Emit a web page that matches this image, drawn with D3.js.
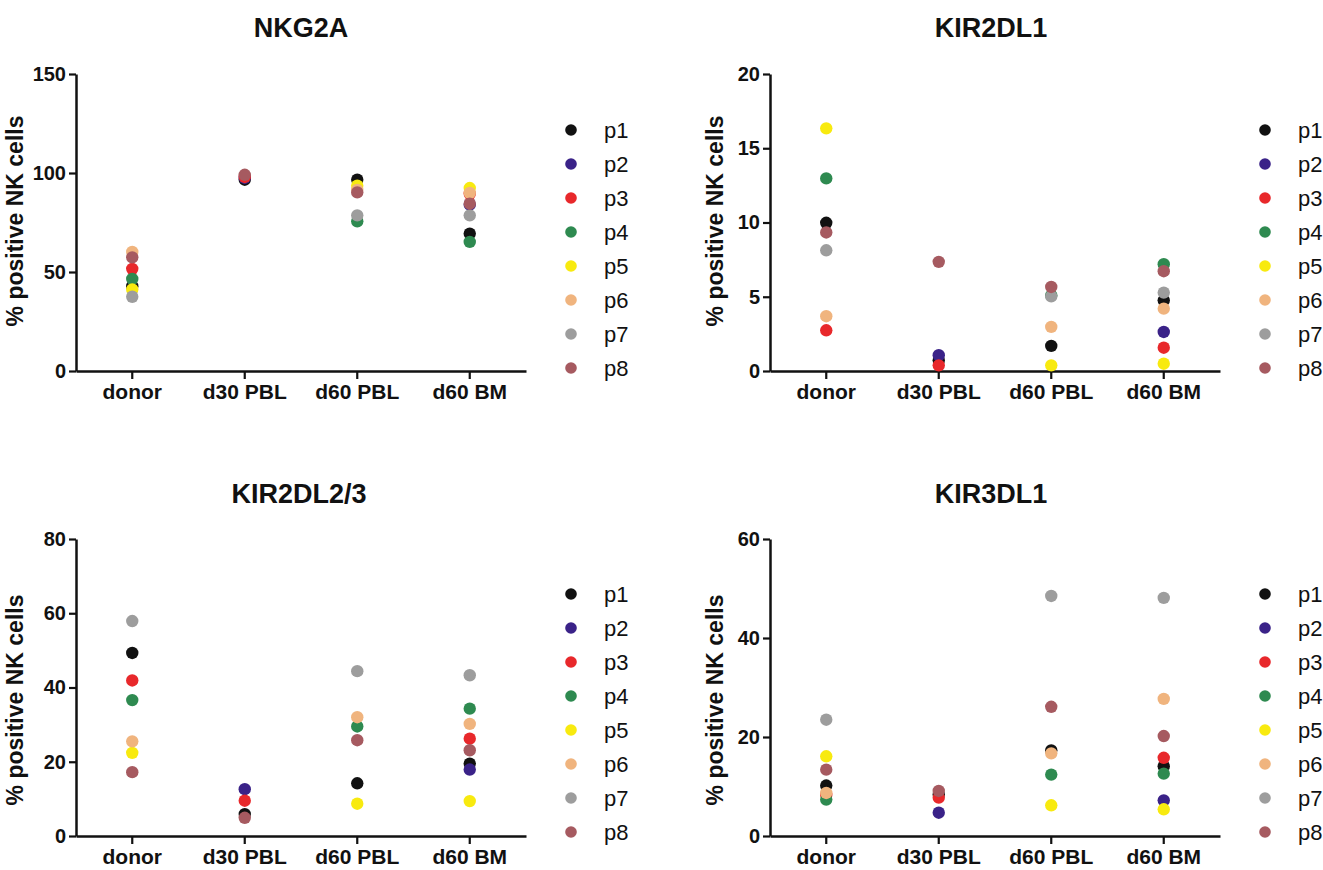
<!DOCTYPE html>
<html>
<head>
<meta charset="utf-8">
<script src="https://cdn.jsdelivr.net/npm/d3@7"></script>
<style>
  html, body { margin: 0; padding: 0; background: #fff; }
  svg { display: block; }
  text { font-family: "Liberation Sans", Arial, Helvetica, sans-serif; fill: #111; }
</style>
</head>
<body>
<svg id="chart" width="1323" height="870"></svg>
<script>
// ---- data ----
const categories = ["donor", "d30 PBL", "d60 PBL", "d60 BM"];
const patients = ["p1", "p2", "p3", "p4", "p5", "p6", "p7", "p8"];
const patientColors = ["#111111", "#3a2288", "#e8282b", "#2e8a50", "#f8ea0f", "#f0b47e", "#9d9d9d", "#a65a60"];

const panelTitles = ["NKG2A", "KIR2DL1", "KIR2DL2/3", "KIR3DL1"];
const yMax = [150, 20, 80, 60];
const ticksNKG2A = [0, 50, 100, 150];
const ticksKIR2DL1 = [0, 5, 10, 15, 20];
const ticksKIR2DL23 = [0, 20, 40, 60, 80];
const ticksKIR3DL1 = [0, 20, 40, 60];

// rows: p1..p8, columns: donor, d30 PBL, d60 PBL, d60 BM (null = not measured)
const valuesNKG2A = [
  [42.8, 96.6, 96.6, 69.4],
  [null, 97.5, null, 84.0],
  [51.6, 98.0, null, 89.5],
  [46.5, null, 75.6, 65.2],
  [41.2, null, 93.6, 92.4],
  [60.1, null, 91.5, 89.9],
  [37.5, null, 78.6, 78.6],
  [57.4, 99.1, 90.2, 84.5]
];
const valuesKIR2DL1 = [
  [9.98, 0.72, 1.69, 4.76],
  [null, 1.06, null, 2.63],
  [2.74, 0.38, null, 1.57],
  [12.97, null, 5.1, 7.19],
  [16.34, null, 0.38, 0.49],
  [3.69, null, 2.97, 4.2],
  [8.13, null, 5.03, 5.28],
  [9.33, 7.35, 5.66, 6.72]
];
const valuesKIR2DL23 = [
  [49.3, 5.9, 14.2, 19.5],
  [null, 12.6, null, 17.9],
  [41.9, 9.5, null, 26.2],
  [36.6, null, 29.5, 34.3],
  [22.4, null, 8.7, 9.4],
  [25.5, null, 32.0, 30.2],
  [57.9, null, 44.4, 43.3],
  [17.2, 4.9, 25.8, 23.1]
];
const valuesKIR3DL1 = [
  [10.2, 8.4, 17.3, 14.1],
  [null, 4.7, null, 7.2],
  [8.3, 7.75, null, 15.8],
  [7.35, null, 12.4, 12.6],
  [16.1, null, 6.2, 5.4],
  [8.7, null, 16.7, 27.7],
  [23.5, null, 48.5, 48.1],
  [13.4, 9.1, 26.1, 20.2]
];
const yLabel = "% positive NK cells";

// ---- layout ----
const panels = [
  { title: panelTitles[0], values: valuesNKG2A, ticks: ticksNKG2A, max: yMax[0], x0: 76, y0: 74, titleX: 301, titleY: 37, labelX: 23, labelY: 221, legendX: 571, legendY: 130 },
  { title: panelTitles[1], values: valuesKIR2DL1, ticks: ticksKIR2DL1, max: yMax[1], x0: 770, y0: 74, titleX: 991, titleY: 37, labelX: 723, labelY: 221, legendX: 1265, legendY: 130 },
  { title: panelTitles[2], values: valuesKIR2DL23, ticks: ticksKIR2DL23, max: yMax[2], x0: 76, y0: 539, titleX: 299, titleY: 503, labelX: 23, labelY: 700, legendX: 571, legendY: 594 },
  { title: panelTitles[3], values: valuesKIR3DL1, ticks: ticksKIR3DL1, max: yMax[3], x0: 770, y0: 539, titleX: 991, titleY: 503, labelX: 723, labelY: 700, legendX: 1265, legendY: 594 }
];
const plotW = 450, plotH = 297;

const svg = d3.select("#chart");

panels.forEach(p => {
  const g = svg.append("g");
  const x = d3.scaleBand().domain(categories).range([p.x0, p.x0 + plotW]).padding(0);
  const y = d3.scaleLinear().domain([0, p.max]).range([p.y0 + plotH, p.y0]);

  // title
  g.append("text").attr("x", p.titleX).attr("y", p.titleY)
    .attr("text-anchor", "middle").attr("font-size", 27).attr("font-weight", "bold")
    .text(p.title);

  // y axis label
  g.append("text")
    .attr("transform", `translate(${p.labelX},${p.labelY}) rotate(-90)`)
    .attr("text-anchor", "middle").attr("font-size", 23).attr("font-weight", "bold")
    .text(yLabel);

  // y axis
  const ya = g.append("g").attr("transform", `translate(${p.x0},0)`)
    .call(d3.axisLeft(y).tickValues(p.ticks).tickFormat(d3.format("d")).tickSize(7).tickPadding(3).tickSizeOuter(0));
  ya.select(".domain").attr("stroke", "#111").attr("stroke-width", 2.5);
  ya.selectAll(".tick line").attr("stroke", "#111").attr("stroke-width", 2.2);
  ya.selectAll(".tick text").attr("font-size", 20).attr("font-weight", "bold")
    .attr("font-family", "Liberation Sans, Arial, sans-serif").attr("fill", "#111");

  // x axis
  const xa = g.append("g").attr("transform", `translate(0,${p.y0 + plotH})`)
    .call(d3.axisBottom(x).tickSize(8).tickPadding(5).tickSizeOuter(0));
  xa.select(".domain").attr("stroke", "#111").attr("stroke-width", 2.5);
  xa.selectAll(".tick line").attr("stroke", "#111").attr("stroke-width", 2.2);
  xa.selectAll(".tick text").attr("font-size", 21).attr("font-weight", "bold")
    .attr("font-family", "Liberation Sans, Arial, sans-serif").attr("fill", "#111");

  // points
  const pts = [];
  p.values.forEach((row, i) => {
    row.forEach((v, j) => {
      if (v !== null) pts.push({ pi: i, cat: categories[j], v: v });
    });
  });
  g.append("g").selectAll("circle").data(pts).join("circle")
    .attr("cx", d => x(d.cat) + x.bandwidth() / 2)
    .attr("cy", d => y(d.v))
    .attr("r", 6.2)
    .attr("fill", d => patientColors[d.pi]);

  // legend
  const lg = g.append("g");
  patients.forEach((name, i) => {
    lg.append("circle").attr("cx", p.legendX).attr("cy", p.legendY + i * 34).attr("r", 5.8).attr("fill", patientColors[i]);
    lg.append("text").attr("x", p.legendX + 33).attr("y", p.legendY + i * 34 + 8)
      .attr("font-size", 22).text(name).attr("fill", "#222");
  });
});
</script>
</body>
</html>
